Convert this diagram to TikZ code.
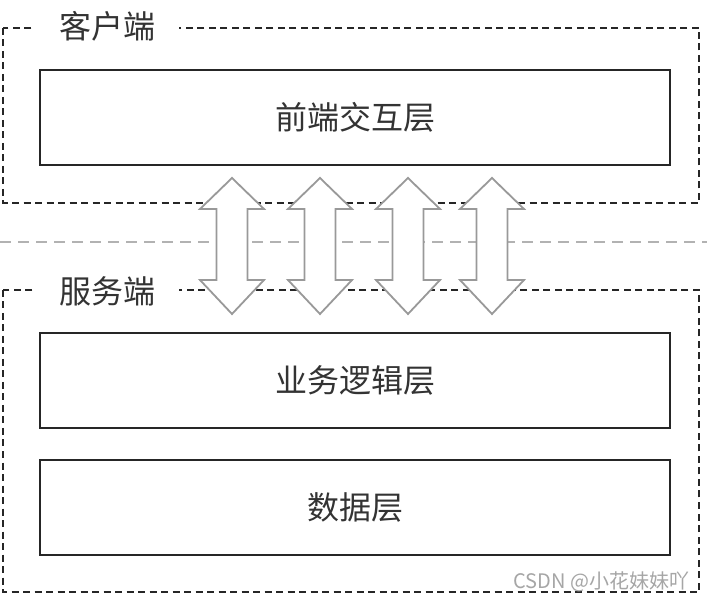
\documentclass[tikz,border=0pt]{standalone}
\usepackage{fontspec}
\setmainfont{Noto Sans CJK SC}
\begin{document}
\begin{tikzpicture}[x=1pt, y=-1pt,
    layer/.style={draw=black!85, line width=2.2pt, minimum width=630pt, minimum height=95pt, font=\fontsize{32}{36}\selectfont, text=black!80},
    zone/.style={draw=black!85, line width=2pt, dash pattern=on 7pt off 4.5pt},
    zonelabel/.style={fill=white, inner xsep=24pt, inner ysep=1pt, font=\fontsize{32}{36}\selectfont, text=black!80},
    linkarrow/.style={draw=gray!80, fill=white, line width=1.8pt, line join=miter}]
    \useasboundingbox (0,0) rectangle (707,601);
    \fill[white] (0,0) rectangle (707,601);

    % === Client and server zones ===
    \draw[zone] (3,28) rectangle (699,203);
    \draw[zone] (3,290) rectangle (699,592);
    \draw[gray!60, line width=1.8pt, dash pattern=on 11pt off 7pt] (0,242) -- (707,242);

    % Double arrows between the zones
    \foreach \cx in {232,320,408,492}
        \draw[linkarrow] (\cx,178) -- ++(32,31) -- ++(-16.5,0) -- ++(0,71) -- ++(16.5,0)
            -- (\cx,314) -- ++(-32,-34) -- ++(16.5,0) -- ++(0,-71) -- ++(-16.5,0) -- cycle;

    \node[zonelabel] (client) at (107,26) {客户端};
    \node[zonelabel] (server) at (107,291) {服务端};

    % === Layers ===
    \node[layer] (front) at (355,117.5) {前端交互层};
    \node[layer] (logic) at (355,380.5) {业务逻辑层};
    \node[layer] (data) at (355,507.5) {数据层};

    \node[anchor=east, text=gray!70, font=\fontsize{20}{23}\selectfont] (mark) at (693,582) {CSDN @小花妹妹吖};
\end{tikzpicture}
\end{document}
